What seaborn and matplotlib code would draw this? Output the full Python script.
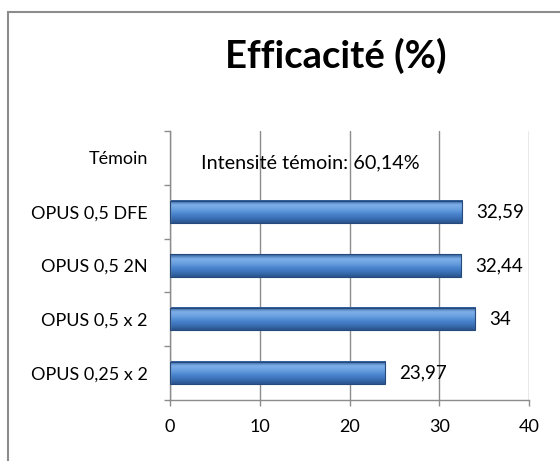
import matplotlib
matplotlib.use("Agg")
import matplotlib.pyplot as plt
import seaborn as sns
import numpy as np
import pandas as pd
from matplotlib.patches import Rectangle
from matplotlib.colors import LinearSegmentedColormap
from matplotlib.ticker import FixedLocator

categories = ["Témoin", "OPUS 0,5 DFE", "OPUS 0,5 2N", "OPUS 0,5 x 2", "OPUS 0,25 x 2"]
bar_categories = ["OPUS 0,5 DFE", "OPUS 0,5 2N", "OPUS 0,5 x 2", "OPUS 0,25 x 2"]
values = [32.59, 32.44, 34, 23.97]
value_labels = ["32,59", "32,44", "34", "23,97"]
x_ticks = [0, 10, 20, 30, 40]
title = "Efficacité (%)"
note = "Intensité témoin: 60,14%"

sns.set_theme(style="white")
plt.rcParams['font.family'] = ['Lato', 'DejaVu Sans']

GRAY = "#8c8c8c"
fig = plt.figure(figsize=(5.6, 4.61), dpi=100)
ax = fig.add_axes([170 / 560, 1 - 400 / 461, 359 / 560, 269 / 461])

df = pd.DataFrame({"cat": bar_categories, "val": values})
sns.barplot(data=df, x="val", y="cat", order=categories, orient="h",
            color="#3f78c0", width=0.41, ax=ax, errorbar=None,
            edgecolor="#24497a", linewidth=0.8)

# gradient fill on the bars
cmap = LinearSegmentedColormap.from_list(
    "bevel", ["#2b5995", "#7fb0ea", "#6aa0e0", "#4a85cf", "#3a6fb5", "#2a548c"])
grad = np.linspace(0, 1, 64).reshape(-1, 1)
for p in ax.patches:
    x0, y0 = p.get_x(), p.get_y()
    w, h = p.get_width(), p.get_height()
    if not np.isfinite(w):
        continue
    ax.imshow(grad, cmap=cmap, aspect="auto", origin="upper",
              extent=(x0, x0 + w, y0 + h, y0), zorder=2, interpolation="bicubic")
    p.set_facecolor("none")
    p.set_zorder(3)

ax.set_xlim(0, 40)
ax.set_ylim(len(categories) - 0.5, -0.5)
ax.set_xticks(x_ticks)
ax.set_xticklabels([str(t) for t in x_ticks])
ax.set_xlabel("")
ax.set_ylabel("")

ax.set_axisbelow(True)
ax.xaxis.grid(True, color=GRAY, lw=1)
ax.yaxis.grid(False)
for s in ["top", "right"]:
    ax.spines[s].set_visible(False)
for s in ["left", "bottom"]:
    ax.spines[s].set_color(GRAY)
    ax.spines[s].set_linewidth(1)

ax.yaxis.set_minor_locator(FixedLocator(np.arange(-0.5, len(categories), 1.0)))
ax.tick_params(axis="y", which="major", length=0, pad=16, labelsize=13, labelcolor="black")
ax.tick_params(axis="y", which="minor", length=4, width=1, color=GRAY, direction="out", left=True)
ax.tick_params(axis="x", which="major", length=4, width=1, color=GRAY, direction="out",
               bottom=True, pad=10, labelsize=13, labelcolor="black")

ax.bar_label(ax.containers[0], labels=value_labels, padding=10, fontsize=13.5, color="black")

ax.text(3.4, 0.1, note, ha="left", va="center", fontsize=14.3, color="black")

fig.text(336 / 560, 1 - 56 / 461, title, ha="center", va="center",
         fontsize=27.5, fontweight="bold", color="black")

fig.add_artist(Rectangle((8 / 560, -0.1), 1.2, 1 - 12 / 461 + 0.1,
                         transform=fig.transFigure, fill=False, ec=GRAY, lw=1.5))

fig.savefig("out.png", dpi=100)
